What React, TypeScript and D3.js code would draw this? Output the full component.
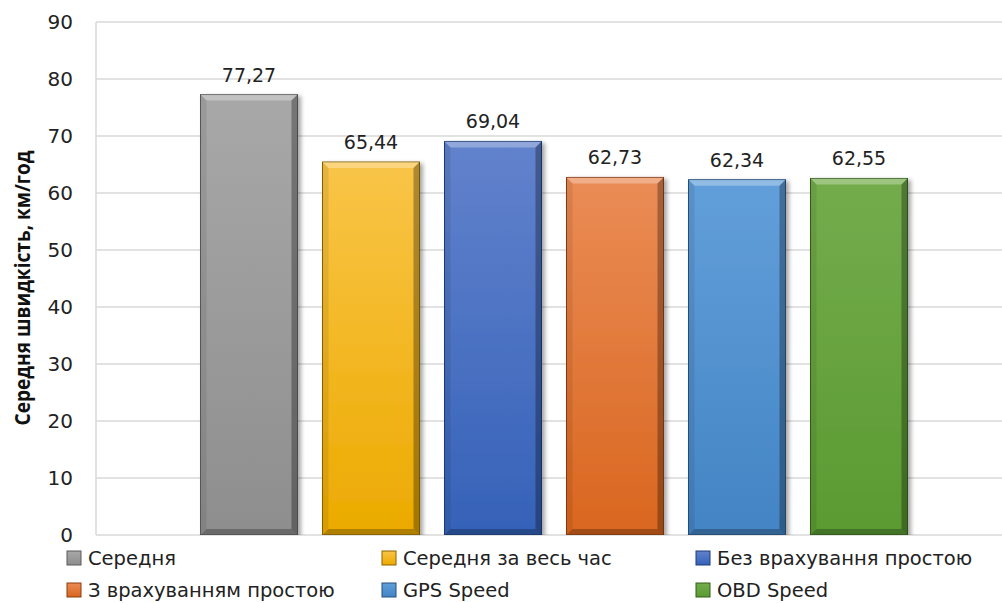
import { useEffect, useRef } from "react";
import * as d3 from "d3";

const series = [
  "Середня",
  "Середня за весь час",
  "Без врахування простою",
  "З врахуванням простою",
  "GPS Speed",
  "OBD Speed",
];
const values = [77.27, 65.44, 69.04, 62.73, 62.34, 62.55];
const colors = [
  ["#a8a8a8", "#8e8e8e", "#5a5a5a"],
  ["#f9c548", "#ecaa00", "#8a6400"],
  ["#6282cc", "#3562b8", "#1f3d78"],
  ["#ea8c56", "#d9661f", "#8a3c10"],
  ["#629fda", "#4384c4", "#27507c"],
  ["#74ac4c", "#5a9a32", "#345e1a"],
];
const yTicks = [0, 10, 20, 30, 40, 50, 60, 70, 80, 90];
const yLabel = "Середня швидкість, км/год";

const W = 1002;
const H = 603;
const plot = { left: 96, right: 1002, top: 22, bottom: 535 };
const font = "'DejaVu Sans', sans-serif";
const boldFont = "'Open Sans', 'Noto Sans', sans-serif";

export default function App() {
  const ref = useRef<SVGSVGElement>(null);

  useEffect(() => {
    const svg = d3.select(ref.current);
    svg.selectAll("*").remove();

    const y = d3.scaleLinear().domain([0, 90]).range([plot.bottom, plot.top]);
    const x = d3
      .scaleBand()
      .domain(series)
      .range([188, 920])
      .paddingInner(0.205)
      .paddingOuter(0.1025);

    const defs = svg.append("defs");
    colors.forEach((c, i) => {
      const g = defs
        .append("linearGradient")
        .attr("id", `g${i}`)
        .attr("x1", 0)
        .attr("y1", 0)
        .attr("x2", 0)
        .attr("y2", 1);
      g.append("stop").attr("offset", "0%").attr("stop-color", c[0]);
      g.append("stop").attr("offset", "100%").attr("stop-color", c[1]);
    });
    const sh = defs.append("filter").attr("id", "shadow").attr("x", "-10%").attr("width", "130%").attr("height", "110%");
    sh.append("feDropShadow")
      .attr("dx", 3)
      .attr("dy", 2)
      .attr("stdDeviation", 2)
      .attr("flood-color", "#000")
      .attr("flood-opacity", 0.35);

    // grid lines
    svg
      .append("g")
      .selectAll("line")
      .data(yTicks)
      .join("line")
      .attr("x1", plot.left)
      .attr("x2", plot.right)
      .attr("y1", (d) => y(d))
      .attr("y2", (d) => y(d))
      .attr("stroke", "#d9d9d9")
      .attr("stroke-width", 1.5);
    svg
      .append("line")
      .attr("x1", plot.left)
      .attr("x2", plot.left)
      .attr("y1", plot.top)
      .attr("y2", plot.bottom)
      .attr("stroke", "#d9d9d9")
      .attr("stroke-width", 1.5);

    // y axis
    const yAxis = svg
      .append("g")
      .attr("transform", `translate(${plot.left - 23},0)`)
      .call(d3.axisLeft(y).tickValues(yTicks).tickSize(0).tickPadding(0));
    yAxis.select(".domain").remove();
    yAxis
      .selectAll("text")
      .attr("font-family", font)
      .attr("font-size", 20)
      .attr("fill", "#222");

    svg
      .append("text")
      .attr("transform", `translate(30,288) rotate(-90)`)
      .attr("text-anchor", "middle")
      .attr("font-family", boldFont)
      .attr("font-weight", "bold")
      .attr("font-size", 21)
      .attr("textLength", 275)
      .attr("lengthAdjust", "spacingAndGlyphs")
      .attr("fill", "#111")
      .text(yLabel);

    // bars
    const bw = x.bandwidth();
    const bars = svg
      .append("g")
      .selectAll("g")
      .data(series)
      .join("g")
      .attr("filter", "url(#shadow)");
    bars
      .append("rect")
      .attr("x", (d) => x(d)!)
      .attr("y", (_, i) => y(values[i]))
      .attr("width", bw)
      .attr("height", (_, i) => plot.bottom - y(values[i]))
      .attr("fill", (_, i) => `url(#g${i})`)
      .attr("stroke", (_, i) => colors[i][2])
      .attr("stroke-width", 1);
    // bevel: light top, dark right & bottom
    const bev = 6;
    bars
      .append("path")
      .attr("d", (d, i) => {
        const x0 = x(d)!, x1 = x0 + bw, y0 = y(values[i]);
        return `M${x0},${y0}L${x1},${y0}L${x1 - bev},${y0 + bev}L${x0 + bev},${y0 + bev}Z`;
      })
      .attr("fill", "#fff")
      .attr("opacity", 0.3);
    bars
      .append("path")
      .attr("d", (d, i) => {
        const x0 = x(d)!, x1 = x0 + bw, y0 = y(values[i]), y1 = plot.bottom;
        return `M${x1},${y0}L${x1},${y1}L${x1 - bev},${y1 - bev}L${x1 - bev},${y0 + bev}Z`;
      })
      .attr("fill", "#000")
      .attr("opacity", 0.3);
    bars
      .append("path")
      .attr("d", (d) => {
        const x0 = x(d)!, x1 = x0 + bw, y1 = plot.bottom;
        return `M${x0},${y1}L${x1},${y1}L${x1 - bev},${y1 - bev}L${x0 + bev},${y1 - bev}Z`;
      })
      .attr("fill", "#000")
      .attr("opacity", 0.25);
    bars
      .append("path")
      .attr("d", (d, i) => {
        const x0 = x(d)!, y0 = y(values[i]), y1 = plot.bottom;
        return `M${x0},${y0}L${x0 + bev},${y0 + bev}L${x0 + bev},${y1 - bev}L${x0},${y1}Z`;
      })
      .attr("fill", "#000")
      .attr("opacity", 0.08);

    // value labels
    svg
      .append("g")
      .selectAll("text")
      .data(series)
      .join("text")
      .attr("x", (d) => x(d)! + bw / 2)
      .attr("y", (_, i) => y(values[i]) - 13)
      .attr("text-anchor", "middle")
      .attr("font-family", font)
      .attr("font-size", 19)
      .attr("fill", "#222")
      .text((_, i) => values[i].toFixed(2).replace(".", ","));

    // legend
    const legX = [67, 382, 696];
    const legY = [565, 597];
    const leg = svg
      .append("g")
      .selectAll("g")
      .data(series)
      .join("g")
      .attr("transform", (_, i) => `translate(${legX[i % 3]},${legY[Math.floor(i / 3)]})`);
    leg
      .append("rect")
      .attr("x", 0)
      .attr("y", -14)
      .attr("width", 14)
      .attr("height", 14)
      .attr("fill", (_, i) => `url(#g${i})`)
      .attr("stroke", (_, i) => colors[i][2])
      .attr("stroke-width", 1);
    leg
      .append("text")
      .attr("x", 21)
      .attr("y", 0)
      .attr("font-family", font)
      .attr("font-size", 19.5)
      .attr("fill", "#222")
      .text((d) => d);
  }, []);

  return (
    <svg
      ref={ref}
      width={W}
      height={H}
      style={{ position: "absolute", left: 0, top: 0, background: "#fff" }}
    />
  );
}
